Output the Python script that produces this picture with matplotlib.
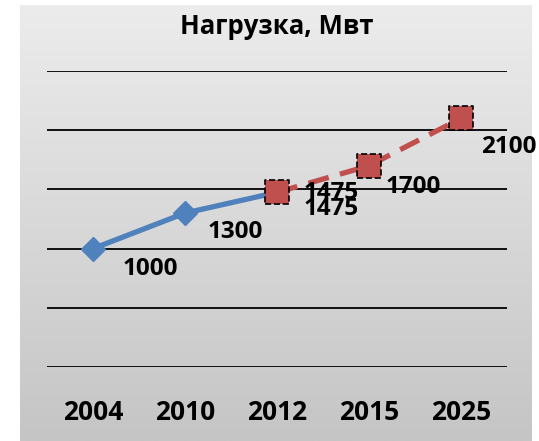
import numpy as np
import matplotlib.pyplot as plt

# --- DATA ---
years = ['2004', '2010', '2012', '2015', '2025']
actual_x = [0, 1, 2]
actual_load = [1000, 1300, 1475]
forecast_x = [2, 3, 4]
forecast_load = [1475, 1700, 2100]
grid_levels = [0, 500, 1000, 1500, 2000, 2500]

# label offsets in pixels (dx, dy) from each point
actual_offsets = [(57, -20), (50, -19), (54, -17)]
forecast_offsets = [(54, -1), (44, -21), (48, -29)]

BLUE = '#4f81bd'
RED = '#c0504d'

plt.rcParams['font.family'] = ['Open Sans', 'DejaVu Sans']

W, H = 539, 441
fig = plt.figure(figsize=(W / 100, H / 100), dpi=100)
fig.patch.set_facecolor('white')

# gray gradient panel behind the chart
bg = fig.add_axes([20 / W, 0, 512 / W, 436 / H], zorder=0)
grad = np.linspace(236, 197, 256).reshape(-1, 1) / 255.0
bg.imshow(np.dstack([grad, grad, grad]), aspect='auto', extent=[0, 1, 0, 1])
bg.axis('off')

ax = fig.add_axes([47 / W, (H - 367) / H, 460 / W, 296 / H], zorder=1)
ax.patch.set_alpha(0)

for lvl in grid_levels:
    ax.axhline(lvl, color='black', lw=1.3, zorder=1)

ax.plot(actual_x, actual_load, color=BLUE, lw=3.8, marker='D', ms=12.5,
        mec=BLUE, mfc=BLUE, zorder=3, clip_on=False)
ax.plot(forecast_x, forecast_load, color=RED, lw=3.8, dashes=(4, 2.2),
        zorder=4, clip_on=False)
ax.scatter(forecast_x, forecast_load, marker='s', s=300, color=RED,
           edgecolor='black', linewidths=1.2, linestyle='--', zorder=5,
           clip_on=False)

lbl_kw = dict(textcoords='offset pixels', ha='center', va='center',
              fontsize=17.5, fontweight='bold', color='black',
              annotation_clip=False, zorder=6)
for x, v, off in zip(actual_x, actual_load, actual_offsets):
    ax.annotate(str(v), (x, v), xytext=off, **lbl_kw)
for x, v, off in zip(forecast_x, forecast_load, forecast_offsets):
    ax.annotate(str(v), (x, v), xytext=off, **lbl_kw)

ax.set_xlim(-0.5, len(years) - 0.5)
ax.set_ylim(0, 2500)
ax.set_xticks(range(len(years)))
ax.set_xticklabels(years, fontsize=19, fontweight='bold')
ax.tick_params(axis='x', length=0, pad=23)
ax.set_yticks([])
for s in ax.spines.values():
    s.set_visible(False)

fig.text(277 / W, 1 - 27 / H, 'Нагрузка, Мвт', ha='center', va='center',
         fontsize=18.5, fontweight='bold')

fig.savefig('out.png', dpi=100)
